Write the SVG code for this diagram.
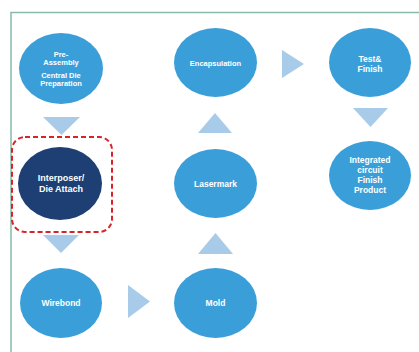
<svg xmlns="http://www.w3.org/2000/svg" width="419" height="352" viewBox="0 0 419 352">
  <defs>
    <style>
      .step { fill: #3a9fd9; }
      .current { fill: #1d3f74; }
      .lbl { fill: #ffffff; font-family: "Liberation Sans", Arial, sans-serif; font-size: 8.5px; font-weight: bold; text-anchor: middle; }
      .small { font-size: 7.5px; }
      .big { font-size: 9px; }
      .flow { fill: #a8cbe9; }
      .frame { fill: none; stroke: #86bca6; stroke-width: 1.5; }
      .focus { fill: none; stroke: #d8232a; stroke-width: 2; stroke-dasharray: 5 3; }
    </style>
  </defs>

  <rect width="419" height="352" fill="#ffffff"/>

  <!-- outer frame (left and top edges) -->
  <path class="frame" d="M11,352 V12.5 H419"/>

  <!-- flow arrows between steps -->
  <g id="connectors">
    <polygon class="flow" points="43,117 80,117 61.5,135"/>
    <polygon class="flow" points="43,235 79,235 61,253"/>
    <polygon class="flow" points="128,285 150,301.5 128,318"/>
    <polygon class="flow" points="198,254 233,254 215.5,233"/>
    <polygon class="flow" points="198,133 232,133 215,113"/>
    <polygon class="flow" points="282,50 304,64 282,78"/>
    <polygon class="flow" points="353,108 388,108 370.5,127"/>
  </g>

  <g id="pre-assembly">
    <ellipse class="step" cx="61" cy="68.5" rx="42" ry="35.5"/>
    <text class="lbl small"><tspan x="61" y="57">Pre-</tspan><tspan x="61" y="65">Assembly</tspan><tspan x="61" y="78">Central Die</tspan><tspan x="61" y="86">Preparation</tspan></text>
  </g>

  <g id="interposer-die-attach">
    <rect class="focus" x="12" y="137" width="100" height="95" rx="13"/>
    <ellipse class="current" cx="60" cy="183.5" rx="42" ry="36.5"/>
    <text class="lbl big"><tspan x="61" y="181">Interposer/</tspan><tspan x="61" y="192">Die Attach</tspan></text>
  </g>

  <g id="wirebond">
    <ellipse class="step" cx="61" cy="303" rx="41" ry="35"/>
    <text class="lbl" x="61" y="306">Wirebond</text>
  </g>

  <g id="mold">
    <ellipse class="step" cx="215.5" cy="303" rx="41.5" ry="35"/>
    <text class="lbl" x="215.5" y="306">Mold</text>
  </g>

  <g id="lasermark">
    <ellipse class="step" cx="215.5" cy="183.5" rx="41.5" ry="34.5"/>
    <text class="lbl" x="215.5" y="187">Lasermark</text>
  </g>

  <g id="encapsulation">
    <ellipse class="step" cx="215.5" cy="62.5" rx="41.5" ry="34.5"/>
    <text class="lbl small" x="215.5" y="66">Encapsulation</text>
  </g>

  <g id="test-finish">
    <ellipse class="step" cx="370" cy="62.5" rx="41" ry="34.5"/>
    <text class="lbl"><tspan x="370" y="62">Test&amp;</tspan><tspan x="370" y="72">Finish</tspan></text>
  </g>

  <g id="ic-finish-product">
    <ellipse class="step" cx="370" cy="175.5" rx="41" ry="34.5"/>
    <text class="lbl"><tspan x="370" y="163">Integrated</tspan><tspan x="370" y="173">circuit</tspan><tspan x="370" y="183">Finish</tspan><tspan x="370" y="193">Product</tspan></text>
  </g>
</svg>
